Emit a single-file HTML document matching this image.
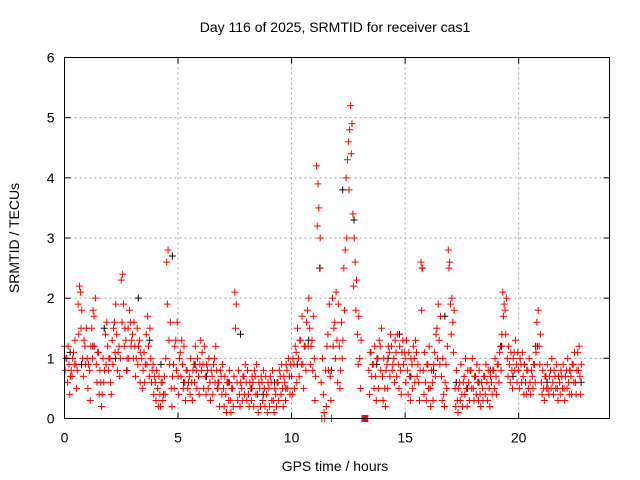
<!DOCTYPE html>
<html><head><meta charset="utf-8"><style>
body{margin:0;background:#fff}
svg{display:block;font-family:"Liberation Sans",sans-serif}
</style></head><body>
<svg id="chart" width="640" height="480">
<text x="335" y="32" font-size="14" text-anchor="middle" fill="#000">Day 116 of 2025, SRMTID for receiver cas1</text>
<text x="335" y="471" font-size="14" text-anchor="middle">GPS time / hours</text>
<text transform="translate(19,238) rotate(-90)" font-size="14" text-anchor="middle">SRMTID / TECUs</text>
<g id="grid"></g><g id="marks"></g><g id="frame"></g>
</svg>
<script>
const xTicks=[0,5,10,15,20];
const yTicks=[0,1,2,3,4,5,6];
const blackVals=[1.1,0.9,1.2,1.5,1.0,0.8,2.0,1.3,0.9,2.7,0.6,0.9,0.7,0.5,0.6,1.4,0.5,0.4,0.6,0.5,0.9,1.3,2.5,0.8,3.8,3.3,0.0,0.9,1.0,1.4,0.7,2.5,0.8,1.7,0.6,0.5,0.6,0.8,1.2,0.7,0.9,1.2,0.6,0.7,0.8,0.6];
const redMid=[1.2,1.0,0.9,0.8,1.1,0.9,1.9,2.1,1.0,1.2,1.0,0.8,1.5,1.7,0.9,1.1,0.6,1.0,1.4,1.2,1.0,1.3,1.6,1.4,1.2,2.3,1.9,1.3,1.5,1.6,1.4,1.2,1.5,1.3,1.0,1.1,1.4,1.2,1.0,0.9,0.6,0.5,0.4,0.6,0.7,2.6,1.3,0.5,0.9,1.3,0.7,1.1,0.9,0.6,0.8,0.7,0.6,0.9,0.8,0.7,1.3,0.9,0.7,0.8,0.6,0.7,1.0,0.8,0.6,0.7,0.5,0.4,0.6,0.3,0.5,2.1,0.6,0.4,0.5,0.7,0.6,0.4,0.5,0.6,0.7,0.4,0.5,0.6,0.5,0.4,0.5,0.6,0.3,0.4,0.6,0.7,0.5,0.6,0.8,0.7,0.7,0.9,1.1,1.0,1.3,0.9,1.2,1.8,1.5,1.3,1.0,4.2,3.5,0.6,0.4,0.8,1.4,0.7,2.0,1.6,1.3,1.2,1.6,2.5,4.0,4.6,5.2,3.4,2.6,1.4,1.0,0.0,0.0,0.0,0.8,1.1,0.9,0.7,1.0,1.2,0.7,0.5,0.9,1.1,1.2,1.0,1.1,0.9,0.8,1.3,1.0,0.8,0.7,0.9,1.0,1.1,0.6,2.6,0.8,0.6,0.9,0.5,0.6,1.1,1.5,1.3,0.7,0.4,0.9,2.8,1.9,1.6,0.5,0.3,0.6,0.4,0.7,0.5,0.6,0.8,0.5,0.7,0.6,0.4,0.5,0.7,0.6,0.5,0.6,0.8,0.7,0.9,1.2,2.1,1.8,1.0,0.9,0.8,1.1,0.9,0.8,0.9,0.7,0.6,0.8,0.6,0.7,0.9,1.6,1.2,0.6,0.5,0.7,0.5,0.8,0.6,0.7,0.5,0.6,0.7,0.5,0.8,0.6,0.7,0.9,0.6,1.1,0.7];
const redLow=[0.8,0.6,0.4,0.7,0.9,0.5,1.4,1.5,0.7,0.9,0.5,0.3,1.0,1.2,0.6,0.4,0.2,0.6,0.9,0.8,0.6,0.9,1.1,0.8,0.7,1.6,1.2,0.8,1.0,1.2,1.0,0.7,0.9,0.6,0.5,0.6,0.9,0.7,0.6,0.4,0.3,0.2,0.2,0.3,0.4,1.9,0.9,0.2,0.5,0.8,0.4,0.7,0.5,0.3,0.5,0.4,0.3,0.6,0.5,0.4,0.8,0.5,0.4,0.5,0.3,0.4,0.6,0.5,0.2,0.4,0.2,0.1,0.3,0.1,0.2,1.5,0.3,0.2,0.3,0.4,0.3,0.2,0.3,0.2,0.4,0.1,0.2,0.3,0.2,0.1,0.2,0.3,0.1,0.2,0.3,0.4,0.2,0.3,0.5,0.4,0.4,0.5,0.6,0.7,0.9,0.5,0.8,1.2,0.9,0.8,0.3,3.2,2.5,0.0,0.1,0.2,0.8,0.3,1.2,1.0,0.6,0.5,1.0,1.8,3.0,3.8,4.4,2.2,1.8,0.9,0.5,0.0,0.0,0.0,0.4,0.7,0.5,0.3,0.5,0.8,0.3,0.2,0.5,0.7,0.8,0.6,0.7,0.5,0.4,0.9,0.6,0.4,0.3,0.5,0.6,0.7,0.3,1.8,0.4,0.3,0.5,0.2,0.3,0.7,1.0,0.9,0.3,0.2,0.5,2.5,1.4,1.1,0.2,0.1,0.3,0.2,0.4,0.2,0.3,0.5,0.3,0.4,0.3,0.2,0.3,0.4,0.3,0.2,0.4,0.5,0.4,0.6,0.8,1.7,1.4,0.7,0.6,0.5,0.8,0.6,0.5,0.6,0.4,0.4,0.5,0.4,0.5,0.6,1.2,0.9,0.4,0.3,0.5,0.4,0.5,0.4,0.5,0.3,0.4,0.5,0.3,0.5,0.4,0.4,0.6,0.4,0.8,0.4];
const redHigh=[1.0,1.2,0.7,1.0,1.3,0.8,2.2,1.8,1.3,1.5,0.9,1.2,1.8,2.0,1.1,0.8,0.4,0.8,1.6,1.0,0.4,1.5,1.9,1.1,1.0,2.4,1.5,1.0,1.8,1.3,1.6,1.0,1.2,1.1,0.8,0.9,1.7,1.5,0.8,0.7,0.8,0.7,0.6,0.4,1.0,2.8,1.6,0.7,1.2,1.6,1.0,1.3,1.2,0.8,0.6,1.0,0.8,1.2,1.0,0.9,1.1,1.2,0.9,1.0,0.8,0.9,1.2,0.6,0.8,0.9,0.7,0.6,0.8,0.5,0.7,1.9,0.8,0.6,0.7,0.9,0.8,0.6,0.7,0.8,0.9,0.6,0.7,0.8,0.7,0.6,0.7,0.8,0.5,0.6,0.8,0.9,0.7,0.9,1.0,0.9,1.0,1.2,1.5,1.3,1.7,1.2,1.6,2.0,1.2,1.7,0.7,3.9,3.0,1.0,0.0,1.2,1.9,0.0,1.5,2.1,1.9,0.8,1.3,2.8,4.3,4.8,4.9,3.0,2.3,1.7,1.3,0.0,0.0,0.0,1.1,0.9,1.2,1.0,1.3,1.5,1.0,0.8,1.2,1.4,0.9,1.3,1.4,1.2,1.1,1.1,1.3,1.1,1.0,1.2,1.3,0.9,0.8,2.5,1.1,0.9,1.2,0.8,0.9,1.4,1.9,1.7,1.0,0.6,1.2,2.6,2.0,1.8,0.8,0.5,0.9,0.6,1.0,0.8,0.8,1.0,0.7,0.9,0.8,0.6,0.7,0.9,0.8,0.7,0.8,1.0,0.9,1.1,1.4,1.9,2.0,1.2,1.1,1.0,1.3,1.1,1.0,1.1,0.9,0.8,1.0,0.8,0.9,1.1,1.8,1.4,0.8,0.7,0.9,0.7,1.0,0.8,0.9,0.7,0.8,0.9,0.7,1.0,0.8,0.9,1.1,0.8,1.2,0.9];

const L=64.5,R=609.5,T=57.5,B=418.5,XMAX=24,YMAX=6;
const xs=h=>L+h/XMAX*(R-L);
const ys=v=>B-v/YMAX*(B-T);
const NS='http://www.w3.org/2000/svg';
function mk(tag,attrs,parent){const e=document.createElementNS(NS,tag);for(const k in attrs)e.setAttribute(k,attrs[k]);parent.appendChild(e);return e;}
const grid=document.getElementById('grid'),marks=document.getElementById('marks'),frame=document.getElementById('frame');
xTicks.forEach(t=>{
  const x=xs(t);
  if(t>0){const g=mk('line',{x1:x,x2:x,y1:T,y2:B,stroke:'#a0a0a0','stroke-dasharray':'2,3'},grid);
  
  }
  const tk=mk('line',{x1:x,x2:x,y1:B,y2:B-6,stroke:'#000'},frame);
  
  
  const tk2=mk('line',{x1:x,x2:x,y1:T,y2:T+6,stroke:'#000'},frame);
  
  
  const lb=mk('text',{x:x,y:B+24,'font-size':14,'text-anchor':'middle'},frame);lb.textContent=t;
  
  
});
yTicks.forEach(t=>{
  const y=ys(t);
  if(t>0&&t<YMAX){const g=mk('line',{x1:L,x2:R,y1:y,y2:y,stroke:'#a0a0a0','stroke-dasharray':'2,3'},grid);
  
  }
  const tk=mk('line',{x1:L,x2:L+6,y1:y,y2:y,stroke:'#000'},frame);
  
  
  const tk2=mk('line',{x1:R,x2:R-6,y1:y,y2:y,stroke:'#000'},frame);
  
  
  const lb=mk('text',{x:L-10,y:y+5,'font-size':14,'text-anchor':'end'},frame);lb.textContent=t;
  
  
});
const fr=mk('rect',{x:L,y:T,width:R-L,height:B-T,fill:'none',stroke:'#000'},frame);


function plus(h,v,color){
  const x=xs(h),y=ys(v);
  const p=mk('path',{d:`M${x-3.5},${y}H${x+3.5}M${x},${y-3.5}V${y+3.5}`,stroke:color,'stroke-width':1,fill:'none'},marks);
  
  
}
blackVals.forEach((v,i)=>plus(0.25+i*0.5,v,'#000'));
redMid.forEach((v,i)=>plus(i*0.1,v,'#ff0000'));
redLow.forEach((v,i)=>plus(i*0.1+0.03,v,'#ff0000'));
redHigh.forEach((v,i)=>plus(i*0.1+0.06,v,'#ff0000'));
</script>
</body></html>
